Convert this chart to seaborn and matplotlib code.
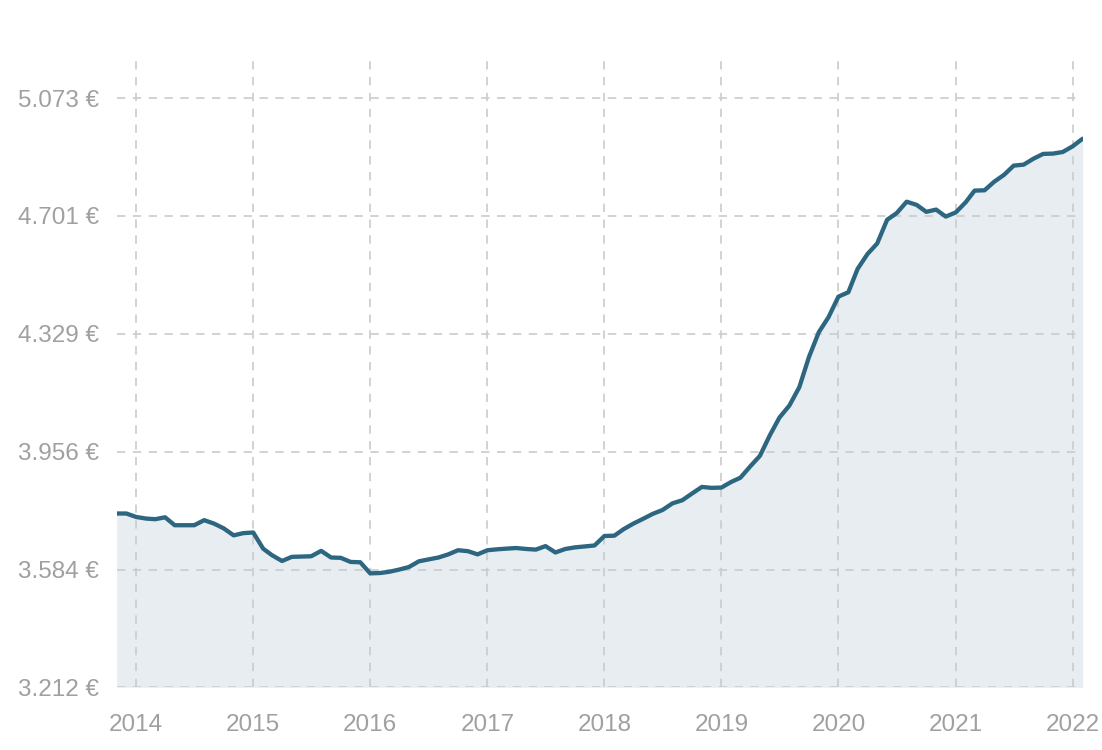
import pandas as pd
import matplotlib
matplotlib.use("Agg")
import matplotlib.pyplot as plt
import matplotlib.dates as mdates
import seaborn as sns

# monthly values, Nov 2013 - Feb 2022 (EUR)
start_month = "2013-11-01"
prices = [
    3761, 3761, 3750, 3745, 3743, 3749, 3724, 3724, 3724, 3740,
    3729, 3714, 3692, 3699, 3701, 3650, 3629, 3611, 3624, 3625,
    3626, 3643, 3622, 3621, 3608, 3607, 3572, 3573, 3577, 3584,
    3592, 3610, 3616, 3622, 3632, 3645, 3642, 3632, 3645, 3648,
    3650, 3652, 3649, 3647, 3658, 3638, 3649, 3654, 3657, 3660,
    3690, 3691, 3711, 3729, 3744, 3760, 3772, 3793, 3803, 3824,
    3845, 3842, 3843, 3861, 3874, 3910, 3943, 4008, 4064, 4102,
    4160, 4255, 4334, 4381, 4446, 4460, 4534, 4581, 4614, 4689,
    4710, 4746, 4736, 4714, 4721, 4699, 4712, 4744, 4781, 4782,
    4809, 4831, 4860, 4863, 4882, 4897, 4898, 4903, 4921, 4945,
]
y_ticks = [3212, 3584, 3956, 4329, 4701, 5073]
x_years = list(range(2014, 2023))

df = pd.DataFrame({
    "month": pd.date_range(start_month, periods=len(prices), freq="MS"),
    "price": prices,
})

sns.set_theme(style="white")
plt.rcParams["font.family"] = ["Liberation Sans", "DejaVu Sans"]

fig = plt.figure(figsize=(11.02, 7.5), dpi=100)
ax = fig.add_axes([0.1059, 0.0836, 0.8765, 0.8391])

line_color = "#2c6681"
ax.fill_between(df["month"], df["price"], y_ticks[0], color="#e8edf1", lw=0, zorder=1)
sns.lineplot(data=df, x="month", y="price", ax=ax, color=line_color, lw=3.1, zorder=3)

ax.set_xlim(df["month"].iloc[0], df["month"].iloc[-1])
ax.set_ylim(y_ticks[0], 5200)

ax.set_yticks(y_ticks)
ax.set_yticklabels([f"{v:,.0f} €".replace(",", ".") for v in y_ticks])
ax.set_xticks([pd.Timestamp(f"{y}-01-01") for y in x_years])
ax.xaxis.set_major_formatter(mdates.DateFormatter("%Y"))

ax.grid(True, color="#cbcbcb", lw=1.2, ls=(0, (5, 4.5)), zorder=2)
ax.set_axisbelow(False)
for s in ax.spines.values():
    s.set_visible(False)

ax.tick_params(axis="both", length=0, labelsize=17.5, colors="#a0a0a0")
ax.tick_params(axis="y", pad=13)
ax.tick_params(axis="x", pad=19)
ax.set_xlabel("")
ax.set_ylabel("")

fig.savefig("out.png", dpi=100)
